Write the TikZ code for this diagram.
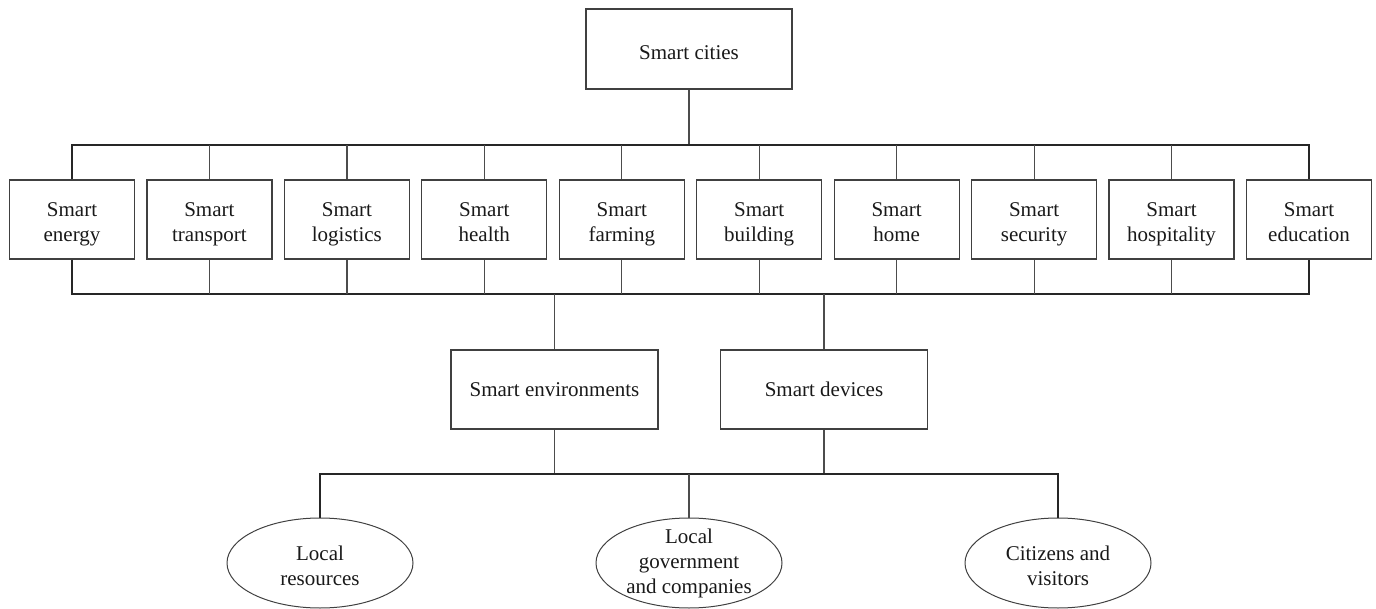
\documentclass[tikz,border=0pt]{standalone}
\usepackage{fontspec}
\setmainfont{Liberation Serif}
\usetikzlibrary{shapes.geometric}
\newcommand\tstrut{\rule{0pt}{13.75pt}}
\begin{document}
\begin{tikzpicture}[x=0.5pt,y=-0.5pt,
  every node/.style={font=\fontsize{10.5pt}{12.5pt}\selectfont, text=black!90},
  topbox/.style={draw=black!75, line width=0.6pt, minimum width=103pt, minimum height=40pt, inner sep=0pt},
  rowbox/.style={draw=black!75, line width=0.6pt, minimum width=62.5pt, minimum height=39.5pt, inner sep=0pt, align=center},
  midbox/.style={draw=black!75, line width=0.6pt, minimum width=103.5pt, minimum height=39.5pt, inner sep=0pt},
  oval/.style={ellipse, draw=black!75, line width=0.5pt, minimum width=93pt, minimum height=45pt, inner sep=0pt},
  ovaltext/.style={align=center, inner sep=0pt},
  bus/.style={line width=0.9pt, black!85},
  drop/.style={line width=0.6pt, black!70}]
\useasboundingbox (0,0) rectangle (1376,609);

\node[topbox] (top) at (689,49) {\rule{0pt}{11pt}Smart cities};

\node[rowbox] (b1)  at (72.0,219.5)   {\tstrut Smart\\\strut energy};
\node[rowbox] (b2)  at (209.4,219.5)  {\tstrut Smart\\\strut transport};
\node[rowbox] (b3)  at (346.9,219.5)  {\tstrut Smart\\\strut logistics};
\node[rowbox] (b4)  at (484.3,219.5)  {\tstrut Smart\\\strut health};
\node[rowbox] (b5)  at (621.8,219.5)  {\tstrut Smart\\\strut farming};
\node[rowbox] (b6)  at (759.2,219.5)  {\tstrut Smart\\\strut building};
\node[rowbox] (b7)  at (896.6,219.5)  {\tstrut Smart\\\strut home};
\node[rowbox] (b8)  at (1034.1,219.5) {\tstrut Smart\\\strut security};
\node[rowbox] (b9)  at (1171.5,219.5) {\tstrut Smart\\\strut hospitality};
\node[rowbox] (b10) at (1309.0,219.5) {\tstrut Smart\\\strut education};

\node[midbox] (env) at (554.5,389.5) {Smart environments};
\node[midbox] (dev) at (824,389.5) {Smart devices};

\node[oval] (e1) at (320,563) {};
\node[oval] (e2) at (689,563) {};
\node[oval] (e3) at (1058,563) {};
\node[ovaltext] (t1) at (e1) {\tstrut Local\\\strut resources};
\node[ovaltext] (t2) at (e2) {\strut Local\\\strut government\\\strut and companies};
\node[ovaltext] (t3) at (e3) {\tstrut Citizens and\\\strut visitors};

% top bus
\coordinate (tb) at (689,145);
\draw[drop] (top.south) -- (tb);
\draw[bus] (b1.north) |- (tb) -| (b10.north);
\foreach \i in {2,...,9} \draw[drop] (b\i.north) -- (b\i.north |- tb);

% bottom bus of row
\coordinate (bb) at (689,294);
\draw[bus] (b1.south) |- (bb) -| (b10.south);
\foreach \i in {2,...,9} \draw[drop] (b\i.south) -- (b\i.south |- bb);
\draw[drop] (env.north) -- (env.north |- bb);
\draw[drop] (dev.north) -- (dev.north |- bb);

% lower bus
\coordinate (lb) at (689,474);
\draw[drop] (env.south) -- (env.south |- lb);
\draw[drop] (dev.south) -- (dev.south |- lb);
\draw[bus] (e1.north) |- (lb) -| (e3.north);
\draw[drop] (e2.north) -- (e2.north |- lb);
\end{tikzpicture}
\end{document}
